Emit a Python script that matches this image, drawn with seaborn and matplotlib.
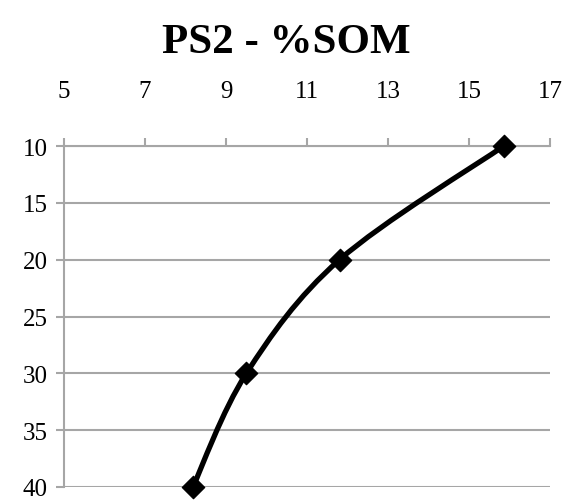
import numpy as np
import pandas as pd
import matplotlib
matplotlib.use('Agg')
import matplotlib.pyplot as plt
from matplotlib.path import Path
from matplotlib.patches import PathPatch
import seaborn as sns

# data
som = [15.85, 11.8, 9.5, 8.18]
depth = [10, 20, 30, 40]
x_ticks = [5, 7, 9, 11, 13, 15, 17]
y_ticks = [10, 15, 20, 25, 30, 35, 40]

df = pd.DataFrame({'SOM': som, 'Depth': depth})

sns.set_theme(style='white')
plt.rcParams['font.family'] = ['Liberation Serif', 'DejaVu Serif']

fig = plt.figure(figsize=(5.72, 5.02), dpi=100)
ax = fig.add_axes([0.112, 0.028, 0.850, 0.679])

# smoothed line like Excel (bezier through the points)
pts = df[['SOM', 'Depth']].to_numpy(dtype=float)
verts = [tuple(pts[0])]
codes = [Path.MOVETO]
n = len(pts)
for i in range(n - 1):
    p0 = pts[i - 1] if i > 0 else pts[i]
    p1 = pts[i]
    p2 = pts[i + 1]
    p3 = pts[i + 2] if i + 2 < n else pts[i + 1]
    c1 = p1 + (p2 - p0) / 6.0
    c2 = p2 - (p3 - p1) / 6.0
    verts += [tuple(c1), tuple(c2), tuple(p2)]
    codes += [Path.CURVE4] * 3
ax.add_patch(PathPatch(Path(verts, codes), fill=False, edgecolor='black',
                       lw=3.8, capstyle='round', joinstyle='round', zorder=3))

sns.scatterplot(data=df, x='SOM', y='Depth', marker='D', s=130, color='black',
                edgecolor='black', ax=ax, zorder=4, clip_on=False)

ax.set_xlim(5, 17)
ax.set_ylim(40, 10)
ax.set_xticks(x_ticks)
ax.set_yticks(y_ticks)
ax.xaxis.tick_top()
ax.set_xlabel('')
ax.set_ylabel('')

ax.grid(axis='y', color='#a6a6a6', lw=1.5)
ax.grid(axis='x', visible=False)
for s in ['right', 'bottom']:
    ax.spines[s].set_visible(False)
for s in ['left', 'top']:
    ax.spines[s].set_color('#a6a6a6')
    ax.spines[s].set_linewidth(1.5)
ax.tick_params(axis='both', which='both', direction='out', length=6, width=1.5,
               color='#a6a6a6', labelsize=18, labelcolor='black')
ax.tick_params(axis='x', top=True, bottom=False, pad=26)
ax.tick_params(axis='y', left=True, pad=6)

fig.suptitle('PS2 - %SOM', fontsize=31, fontweight='bold', color='black', y=0.952)

fig.savefig('out.png', dpi=100)
